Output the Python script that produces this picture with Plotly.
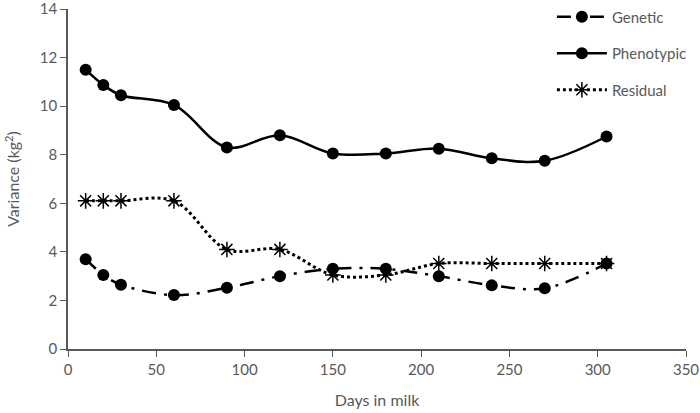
import plotly.graph_objects as go

days = [10, 20, 30, 60, 90, 120, 150, 180, 210, 240, 270, 305]
genetic = [3.7, 3.05, 2.65, 2.22, 2.52, 3.0, 3.3, 3.3, 3.0, 2.62, 2.5, 3.52]
phenotypic = [11.5, 10.87, 10.45, 10.05, 8.3, 8.8, 8.05, 8.05, 8.25, 7.85, 7.75, 8.75]
residual = [6.1, 6.1, 6.1, 6.1, 4.1, 4.1, 3.05, 3.05, 3.52, 3.52, 3.52, 3.52]

grey = '#595959'
font = 'Lato, Open Sans, sans-serif'

fig = go.Figure()

fig.add_trace(go.Scatter(
    x=days, y=genetic, name='Genetic', legendgroup='g',
    mode='lines+markers', line_shape='spline',
    line=dict(color='black', width=2.5, dash='14px,8px,3px,8px'),
    marker=dict(symbol='circle', size=12, color='black')))

fig.add_trace(go.Scatter(
    x=days, y=phenotypic, name='Phenotypic', legendgroup='p',
    mode='lines+markers', line_shape='spline',
    line=dict(color='black', width=2.5),
    marker=dict(symbol='circle', size=12, color='black')))

fig.add_trace(go.Scatter(
    x=days, y=residual, name='Residual', legendgroup='r',
    mode='lines+markers', line_shape='spline',
    line=dict(color='black', width=3, dash='dot'),
    marker=dict(symbol='asterisk-open', size=13, color='black',
                line=dict(color='black', width=1.5))))

fig.update_layout(
    width=700, height=413,
    margin=dict(l=68, r=14, t=9, b=64, autoexpand=False),
    plot_bgcolor='white', paper_bgcolor='white',
    font=dict(family=font, size=15, color=grey),
    legend=dict(x=0.783, y=1.025, xanchor='left', yanchor='top',
                bgcolor='rgba(0,0,0,0)', tracegroupgap=14,
                font=dict(size=15, color=grey), itemwidth=50),
    xaxis=dict(range=[0, 350], dtick=50, showgrid=False, zeroline=False,
               showline=True, linecolor=grey, linewidth=1.5,
               ticks='outside', ticklen=6, tickcolor=grey,
               ticklabeloverflow='allow',
               title=dict(text='Days in milk', standoff=18, font=dict(size=16))),
    yaxis=dict(range=[0, 14], dtick=2, showgrid=False, zeroline=False,
               showline=True, linecolor=grey, linewidth=1.5,
               ticks='outside', ticklen=6, tickcolor=grey,
               ticklabeloverflow='allow',
               title=dict(text='Variance (kg<sup>2</sup>)', standoff=16, font=dict(size=16))),
)

fig.write_html('out.html', config={'displayModeBar': False},
               post_script="document.body.style.margin='0';")
